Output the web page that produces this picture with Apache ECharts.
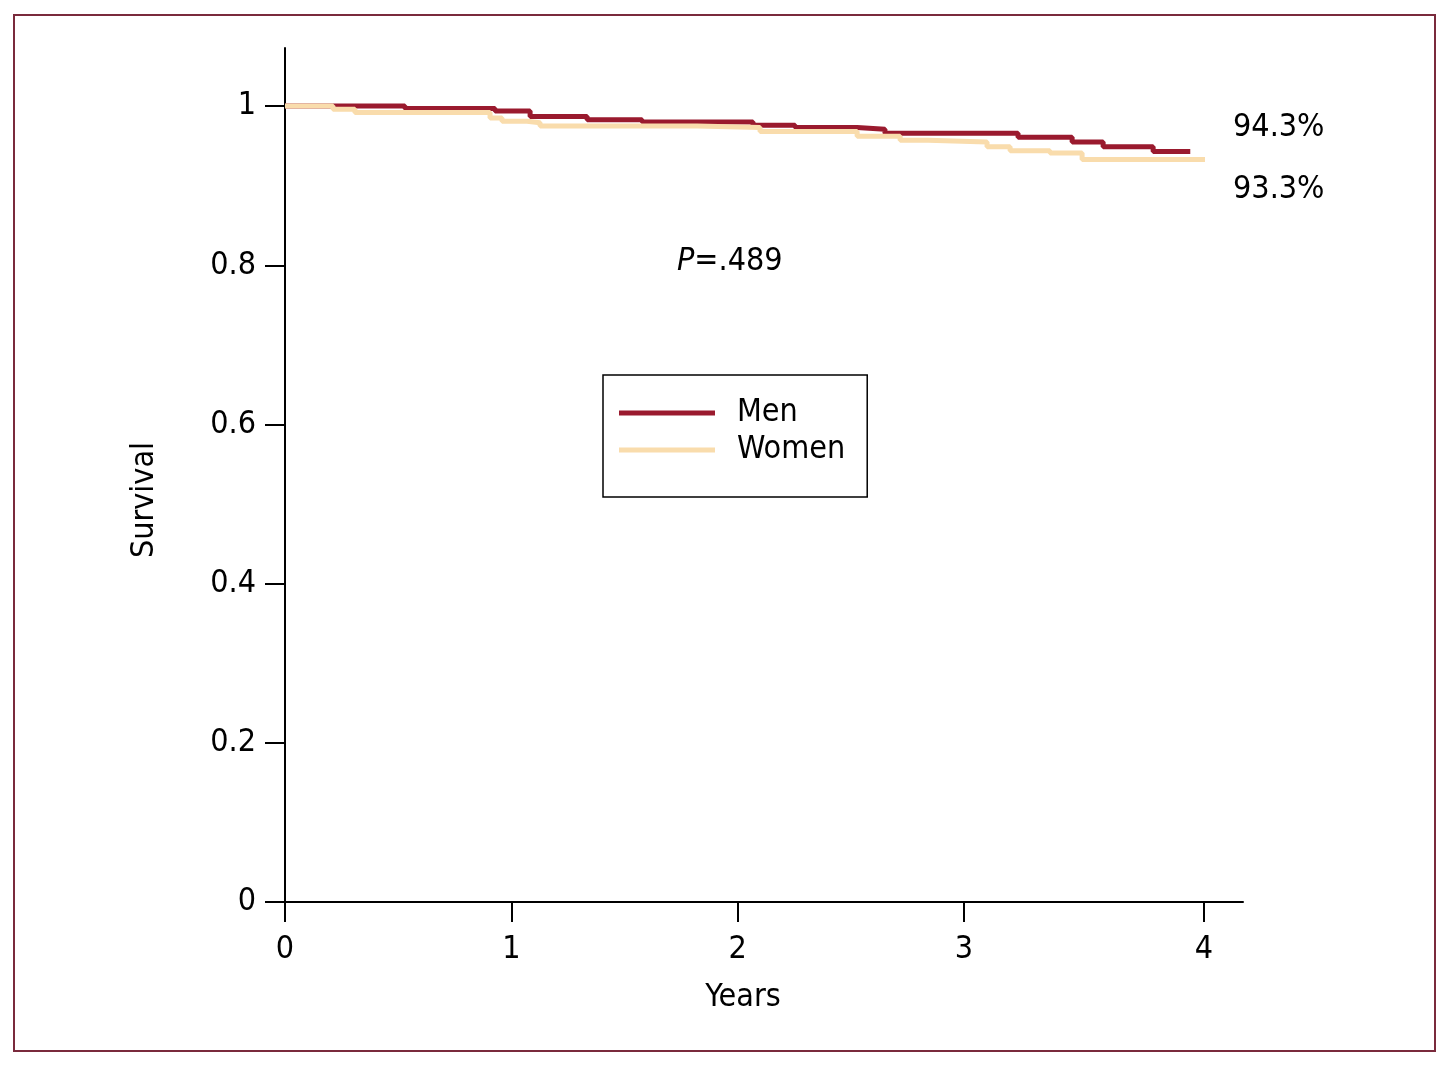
<!DOCTYPE html>
<html>
<head>
<meta charset="utf-8">
<script src="https://cdn.jsdelivr.net/npm/echarts@6/dist/echarts.min.js"></script>
<style>
html,body{margin:0;padding:0;background:#fff;}
#main{width:1454px;height:1070px;}
</style>
</head>
<body>
<div id="main"></div>
<script>
// ---- Data ----
var seriesNames = ['Men', 'Women'];
// Kaplan-Meier steps: [years, survival]
var menSteps = [
  [0, 1.0], [0.53, 0.997], [0.928, 0.994], [1.083, 0.987], [1.335, 0.983],
  [1.578, 0.980], [2.068, 0.976], [2.254, 0.973], [2.528, 0.971], [2.651, 0.966],
  [3.239, 0.961], [3.478, 0.955], [3.615, 0.949], [3.836, 0.943], [4.0, 0.943]
];
var womenSteps = [
  [0, 1.0], [0.212, 0.996], [0.309, 0.992], [0.906, 0.985], [0.959, 0.981],
  [1.069, 0.979], [1.127, 0.975], [1.821, 0.973], [2.099, 0.968], [2.528, 0.962],
  [2.718, 0.957], [2.841, 0.955], [3.102, 0.949], [3.204, 0.944], [3.380, 0.941],
  [3.522, 0.933], [4.065, 0.933]
];
var xTickValues = [0, 1, 2, 3, 4.06];
var xTickLabels = ['0', '1', '2', '3', '4'];
var yTickValues = [0, 0.2, 0.4, 0.6, 0.8, 1];
var yTickLabels = ['0', '0.2', '0.4', '0.6', '0.8', '1'];
var endLabels = ['94.3%', '93.3%'];
var pValueText = '.489';
var xAxisTitle = 'Years';
var yAxisTitle = 'Survival';

// ---- Styles ----
var FONT = '"Liberation Sans Narrow", "DejaVu Sans Condensed", sans-serif';
var FS = 32;
var colors = ['#9A1A2E', '#F9DCAC'];

var chart = echarts.init(document.getElementById('main'));
var option = {
  animation: false,
  backgroundColor: '#ffffff',
  grid: { left: 285, top: 48, width: 958, height: 854, containLabel: false },
  xAxis: {
    type: 'value', min: 0, max: 4.233,
    axisLine: { show: true, lineStyle: { color: '#000', width: 2 } },
    axisTick: { show: true, length: 20, lineStyle: { color: '#000', width: 2 }, customValues: xTickValues },
    axisLabel: {
      margin: 32, color: '#000', fontFamily: FONT, fontSize: FS,
      customValues: xTickValues,
      formatter: function (v) { return xTickLabels[xTickValues.indexOf(v)]; }
    },
    splitLine: { show: false }
  },
  yAxis: {
    type: 'value', min: 0, max: 1.073,
    axisLine: { show: true, lineStyle: { color: '#000', width: 2 } },
    axisTick: { show: true, length: 20, lineStyle: { color: '#000', width: 2 }, customValues: yTickValues },
    axisLabel: {
      margin: 29, color: '#000', fontFamily: FONT, fontSize: FS,
      customValues: yTickValues,
      formatter: function (v) { return yTickLabels[yTickValues.indexOf(v)]; }
    },
    splitLine: { show: false }
  },
  legend: {
    data: seriesNames,
    orient: 'vertical',
    left: 603, top: 375,
    padding: [21, 22, 30, 16],
    itemGap: 3,
    itemWidth: 96, itemHeight: 5,
    icon: 'rect',
    borderColor: '#000', borderWidth: 1.5,
    textStyle: { fontFamily: FONT, fontSize: FS, color: '#000', padding: [0, 0, 0, 17], lineHeight: 34 }
  },
  series: [
    {
      name: seriesNames[0], type: 'line', step: 'end', data: menSteps,
      showSymbol: false, symbol: 'none',
      lineStyle: { color: colors[0], width: 5 }, itemStyle: { color: colors[0] }, z: 2
    },
    {
      name: seriesNames[1], type: 'line', step: 'end', data: womenSteps,
      showSymbol: false, symbol: 'none',
      lineStyle: { color: colors[1], width: 5 }, itemStyle: { color: colors[1] }, z: 3
    }
  ],
  graphic: [
    { type: 'rect', shape: { x: 14, y: 15, width: 1421, height: 1036 },
      style: { fill: null, stroke: '#7A2A3C', lineWidth: 2 }, silent: true },
    { type: 'text', x: 1233, y: 128,
      style: { text: endLabels[0], font: FS + 'px ' + FONT, fill: '#000', verticalAlign: 'middle', align: 'left' } },
    { type: 'text', x: 1233, y: 190,
      style: { text: endLabels[1], font: FS + 'px ' + FONT, fill: '#000', verticalAlign: 'middle', align: 'left' } },
    { type: 'text', x: 677, y: 262,
      style: {
        text: '{i|P}{n|=' + pValueText + '}',
        verticalAlign: 'middle', align: 'left',
        rich: {
          i: { fontFamily: FONT, fontSize: FS, fontStyle: 'italic', fill: '#000' },
          n: { fontFamily: FONT, fontSize: FS, fill: '#000' }
        }
      } },
    { type: 'text', x: 743, y: 998,
      style: { text: xAxisTitle, font: FS + 'px ' + FONT, fill: '#000', verticalAlign: 'middle', align: 'center' } },
    { type: 'text', x: 145, y: 500, rotation: Math.PI / 2,
      style: { text: yAxisTitle, font: FS + 'px ' + FONT, fill: '#000', verticalAlign: 'middle', align: 'center' } }
  ]
};
chart.setOption(option);
</script>
</body>
</html>
